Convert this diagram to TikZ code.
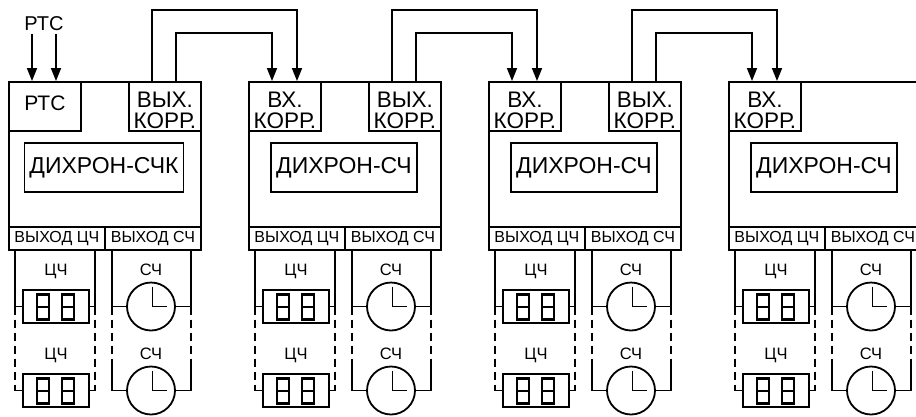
\documentclass[tikz,border=0pt]{standalone}
\usepackage{fontspec}
\setmainfont{Liberation Sans}
\usepackage{tikz}
\usetikzlibrary{
    calc,
    arrows.meta,
    positioning
}

\begin{document}
\begin{tikzpicture}[
            x=1pt, y=-1pt, line width=1.8pt,
            box/.style={draw, inner sep=0pt, anchor=north west},
            corr/.style={box, minimum width=72pt, minimum height=49pt},
            corr text/.style={align=center, inner sep=0pt, font=\fontsize{22.5}{21.5}\selectfont},
            cell/.style={box, minimum width=96pt, minimum height=23pt, font=\fontsize{16}{16}\selectfont},
            namebox/.style={draw, minimum height=49pt, inner xsep=5pt, inner ysep=0pt, font=\fontsize{23}{23}\selectfont},
            tag/.style={anchor=base, inner sep=0pt, font=\fontsize{16.5}{16.5}\selectfont},
            feed/.style={-{Triangle[length=13pt, width=10pt]}},
            link/.style={dash pattern=on 8pt off 5pt},
            disp/.style={draw, minimum width=66pt, minimum height=33pt, inner sep=0pt},
            digit/.style={line width=2.4pt},
            clock/.style={draw, circle, minimum size=48pt, inner sep=0pt}
        ]
        \clip (0,0) rectangle (916,416);
        % modules
        \foreach \i/\L/\t in {1/8/ДИХРОН-СЧК, 2/248/ДИХРОН-СЧ, 3/488/ДИХРОН-СЧ, 4/728/ДИХРОН-СЧ} {
            \node[box, minimum width=192pt, minimum height=168pt] (mod\i) at (\L,81) {};
            \node[corr] (in\i) at (\L,81) {};
            \node[namebox] (name\i) at (\L+96,167.5) {\t};
            \node[cell] (cq\i) at (\L,226) {ВЫХОД ЦЧ};
            \node[cell] (cs\i) at (\L+96,226) {ВЫХОД СЧ};
            \coordinate (qL\i) at (\L+7,249);
            \coordinate (qR\i) at (\L+87,249);
            \coordinate (sL\i) at (\L+104,249);
            \coordinate (sR\i) at (\L+183,249);
            \foreach \r/\y/\ty in {A/306.5/275, B/390.5/359} {
                \node[disp] (d\r\i) at (\L+48,\y) {};
                \node[clock] (k\r\i) at (\L+143,\y) {};
                \node[tag] at (\L+48,\ty) {ЦЧ};
                \node[tag] at (\L+143,\ty) {СЧ};
                \draw[digit] (\L+29,\y-12) rectangle (\L+41,\y+13) (\L+29,\y+0.5) -- (\L+41,\y+0.5);
                \draw[digit] (\L+54,\y-12) rectangle (\L+66,\y+13) (\L+54,\y+0.5) -- (\L+66,\y+0.5);
                \draw ([shift={(1.5pt,20pt)}]k\r\i.center) |- ([xshift=16pt]k\r\i.center);
            }
            % display lines
            \draw (qL\i) |- (dA\i.west);
            \draw (qR\i) |- (dA\i.east);
            \draw (sL\i) |- (kA\i.west);
            \draw (sR\i) |- (kA\i.east);
            \draw[link] (qL\i |- dA\i.west) -- (qL\i |- dB\i.west);
            \draw[link] (qR\i |- dA\i.east) -- (qR\i |- dB\i.east);
            \draw (qL\i |- dB\i.west) -- (dB\i.west);
            \draw (qR\i |- dB\i.east) -- (dB\i.east);
            \draw[link] (sL\i |- kA\i.west) -- (\L+104,362);
            \draw[link] (sR\i |- kA\i.east) -- (\L+183,362);
            \draw (\L+104,362) |- (kB\i.west);
            \draw (\L+183,362) |- (kB\i.east);
        }
        \foreach \i in {2,3,4}
            \node[corr text] at ([yshift=-4pt]in\i.center) {ВХ.\\КОРР.};
        \foreach \i/\L in {1/128, 2/368, 3/608} {
            \node[corr] (out\i) at (\L,81) {};
            \node[corr text] at ([yshift=-4pt]out\i.center) {ВЫХ.\\КОРР.};
        }
        % time signal input
        \node[font=\fontsize{21}{21}\selectfont, inner sep=0pt] at ([yshift=3pt]in1.center) {РТС};
        \node[font=\fontsize{20}{20}\selectfont, inner sep=2pt] (rtc) at (44,24) {РТС};
        \draw[feed] ([xshift=-12pt]rtc.south) -- ([xshift=24pt]in1.north west);
        \draw[feed] ([xshift=12pt]rtc.south) -- ([xshift=48pt]in1.north west);
        % correction links
        \foreach \a/\b in {1/2, 2/3, 3/4} {
            \draw[feed] ([xshift=24pt]out\a.north west) -- ++(0,-71) -| ([xshift=49pt]in\b.north west);
            \draw[feed] ([xshift=48pt]out\a.north west) -- ++(0,-48) -| ([xshift=24pt]in\b.north west);
        }
    \end{tikzpicture}
\end{document}
